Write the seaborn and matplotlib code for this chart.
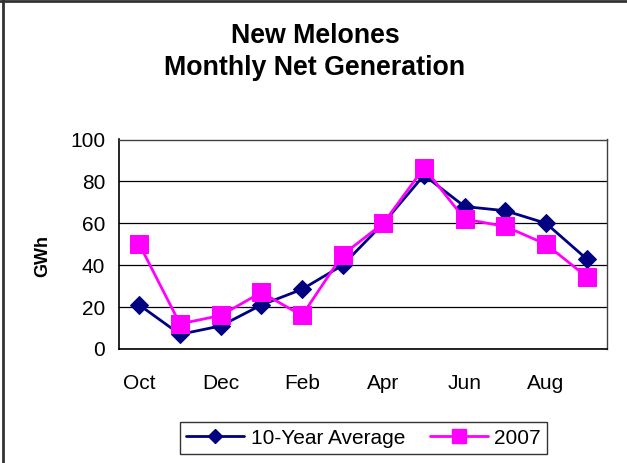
import matplotlib
matplotlib.use("Agg")
import matplotlib.pyplot as plt
from matplotlib.lines import Line2D
import seaborn as sns
import pandas as pd
import numpy as np

months = ["Oct", "Nov", "Dec", "Jan", "Feb", "Mar", "Apr", "May", "Jun", "Jul", "Aug", "Sep"]
avg_10yr = [21, 7, 11, 21, 28.5, 40, 60, 83, 68, 66, 60, 43]
gen_2007 = [50, 12, 16, 27, 16, 45, 60, 86.5, 62, 58.5, 50, 34.5]
series_names = ["10-Year Average", "2007"]
shown_labels = ["Oct", "Dec", "Feb", "Apr", "Jun", "Aug"]

df = pd.DataFrame({
    "month": months * 2,
    "pos": list(range(len(months))) * 2,
    "GWh": avg_10yr + gen_2007,
    "series": [series_names[0]] * len(months) + [series_names[1]] * len(months),
})

sns.set_style("white")
plt.rcParams["font.family"] = ["Liberation Sans", "DejaVu Sans"]
plt.rcParams["text.color"] = "black"
plt.rcParams["xtick.color"] = "black"
plt.rcParams["ytick.color"] = "black"
plt.rcParams["axes.labelcolor"] = "black"

fig = plt.figure(figsize=(6.27, 4.63), dpi=100)
ax = fig.add_axes([119 / 627, 1 - 349 / 463, (607 - 119) / 627, (349 - 139.5) / 463])

colors = {"10-Year Average": "#000080", "2007": "#FF00FF"}
markers = {"10-Year Average": "D", "2007": "s"}
sizes = {"10-Year Average": 9, "2007": 13}

for name in series_names:
    sub = df[df["series"] == name]
    sns.lineplot(data=sub, x="pos", y="GWh", ax=ax, color=colors[name], marker=markers[name],
                 markersize=sizes[name], markeredgecolor=colors[name], linewidth=2.0,
                 sort=False, legend=False, zorder=3)

ax.set_xlim(-0.5, len(months) - 0.5)
ax.set_ylim(0, 100)
ax.set_yticks(np.arange(0, 101, 20))
ax.yaxis.grid(True, color="#000000", linewidth=0.9)
ax.xaxis.grid(False)

pos_shown = [months.index(m) for m in shown_labels]
ax.set_xticks(pos_shown)
ax.set_xticklabels(shown_labels)
ax.set_xticks(np.arange(-0.5, len(months), 1), minor=True)
ax.tick_params(axis="x", which="major", length=0, pad=18, labelsize=15, labelcolor="black")
ax.tick_params(axis="x", which="minor", length=6, width=1, color="black", direction="out")
ax.tick_params(axis="y", which="major", length=6, width=1, color="black", direction="out",
               labelsize=15, pad=4, labelcolor="black")
ax.set_xlabel("")
ax.set_ylabel("")

for side in ["left", "bottom"]:
    ax.spines[side].set_color("black")
    ax.spines[side].set_linewidth(1.2)
for side in ["top", "right"]:
    ax.spines[side].set_color("#404040")
    ax.spines[side].set_linewidth(1.0)

fig.text(43 / 627, 1 - 256 / 463, "GWh", rotation=90, ha="center", va="center",
         fontsize=13, fontweight="bold", color="black")

fig.text(315 / 627, 1 - 52 / 463, "New Melones\nMonthly Net Generation", ha="center", va="center",
         fontsize=19.3, fontweight="bold", linespacing=1.32, color="black")

handles = [
    Line2D([0], [0], color=colors[n], marker=markers[n], markersize=sizes[n] * 0.75,
           markeredgecolor=colors[n], linewidth=2.0)
    for n in series_names
]
leg = fig.legend(handles, series_names, loc="center", bbox_to_anchor=(363.5 / 627, 1 - 438 / 463),
                 ncol=2, fontsize=15, frameon=True, fancybox=False, shadow=False,
                 handlelength=2.8, handletextpad=0.3, columnspacing=1.2, borderpad=0.3)
leg.get_frame().set_edgecolor("black")
leg.get_frame().set_linewidth(1.0)
for t in leg.get_texts():
    t.set_color("black")

fig.add_artist(Line2D([0.004, 0.004], [0, 1], transform=fig.transFigure, color="#333333", linewidth=2))
fig.add_artist(Line2D([0, 1], [0.998, 0.998], transform=fig.transFigure, color="#333333", linewidth=2))

fig.savefig("out.png", dpi=100)
